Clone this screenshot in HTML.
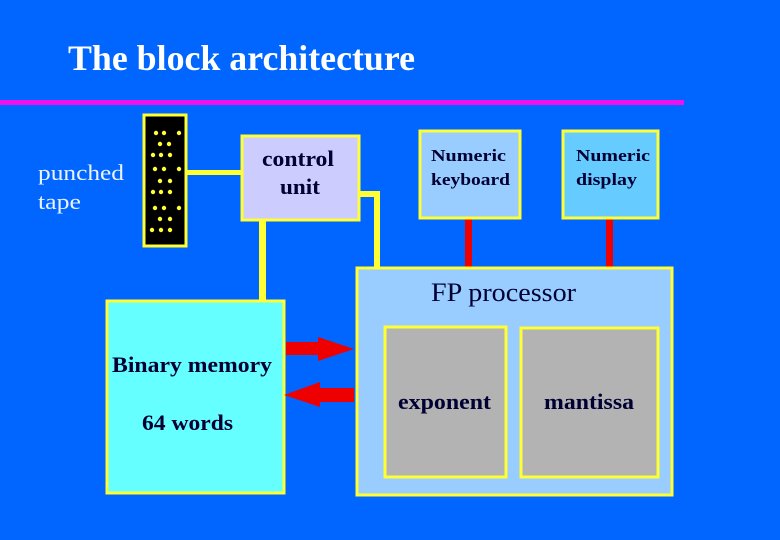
<!DOCTYPE html>
<html><head><style>
html,body{margin:0;padding:0;background:#0066ff;}
svg{display:block}
text{font-family:"Liberation Serif",serif;}
</style></head><body>
<svg width="780" height="540" xmlns="http://www.w3.org/2000/svg">
<rect width="780" height="540" fill="#0066ff"/>
<text x="68" y="70" font-size="36" font-weight="bold" fill="#fff" textLength="347" lengthAdjust="spacingAndGlyphs">The block architecture</text>
<rect x="0" y="100" width="684" height="5" fill="#ee11ee"/>
<text x="38" y="180" font-size="22" fill="#ffffff" fill-opacity="0.92" textLength="86" lengthAdjust="spacingAndGlyphs">punched</text>
<text x="38" y="209" font-size="22" fill="#ffffff" fill-opacity="0.92" textLength="43" lengthAdjust="spacingAndGlyphs">tape</text>
<rect x="187" y="170" width="55" height="5" fill="#ffff33"/>
<rect x="259" y="220" width="7" height="82" fill="#ffff33"/>
<polyline points="359,194 377,194 377,268" fill="none" stroke="#ffff33" stroke-width="6"/>
<rect x="465" y="219" width="7" height="49" fill="#ee0000"/>
<rect x="606" y="219" width="7" height="49" fill="#ee0000"/>
<rect x="144" y="115" width="42" height="131" fill="#000" stroke="#ffff33" stroke-width="3"/>
<g fill="#ffff33">
<circle cx="156" cy="133" r="2.2"/><circle cx="164" cy="133" r="2.2"/><circle cx="179" cy="133" r="2.2"/>
<circle cx="160" cy="144" r="2.2"/><circle cx="169" cy="144" r="2.2"/>
<circle cx="153" cy="155" r="2.2"/><circle cx="161" cy="155" r="2.2"/><circle cx="170" cy="155" r="2.2"/>
<circle cx="155" cy="169" r="2.2"/><circle cx="164" cy="169" r="2.2"/><circle cx="179" cy="169" r="2.2"/>
<circle cx="160" cy="181" r="2.2"/><circle cx="170" cy="181" r="2.2"/>
<circle cx="153" cy="192" r="2.2"/><circle cx="161" cy="192" r="2.2"/><circle cx="170" cy="192" r="2.2"/>
<circle cx="155" cy="208" r="2.2"/><circle cx="164" cy="208" r="2.2"/><circle cx="179" cy="208" r="2.2"/>
<circle cx="160" cy="219" r="2.2"/><circle cx="170" cy="219" r="2.2"/>
<circle cx="152" cy="230" r="2.2"/><circle cx="161" cy="230" r="2.2"/><circle cx="170" cy="230" r="2.2"/>
</g>
<rect x="242" y="136" width="117" height="84" fill="#ccccff" stroke="#ffff33" stroke-width="3"/>
<text x="262" y="166" font-size="22" font-weight="bold" fill="#000033" textLength="72" lengthAdjust="spacingAndGlyphs">control</text>
<text x="280" y="194" font-size="22" font-weight="bold" fill="#000033" textLength="40" lengthAdjust="spacingAndGlyphs">unit</text>
<rect x="420" y="131" width="100" height="87" fill="#99ccff" stroke="#ffff33" stroke-width="3"/>
<text x="431" y="161" font-size="17" font-weight="bold" fill="#000033" textLength="75" lengthAdjust="spacingAndGlyphs">Numeric</text>
<text x="431" y="185" font-size="17" font-weight="bold" fill="#000033" textLength="79" lengthAdjust="spacingAndGlyphs">keyboard</text>
<rect x="563" y="131" width="95" height="87" fill="#66ccff" stroke="#ffff33" stroke-width="3"/>
<text x="576" y="161" font-size="17" font-weight="bold" fill="#000033" textLength="74" lengthAdjust="spacingAndGlyphs">Numeric</text>
<text x="576" y="185" font-size="17" font-weight="bold" fill="#000033" textLength="61" lengthAdjust="spacingAndGlyphs">display</text>
<rect x="107" y="301" width="177" height="192" fill="#66ffff" stroke="#ffff33" stroke-width="3"/>
<text x="112" y="372" font-size="22" font-weight="bold" fill="#000033" textLength="160" lengthAdjust="spacingAndGlyphs">Binary memory</text>
<text x="142" y="430" font-size="22" font-weight="bold" fill="#000033" textLength="91" lengthAdjust="spacingAndGlyphs">64 words</text>
<rect x="357" y="268" width="315" height="227" fill="#99ccff" stroke="#ffff33" stroke-width="3"/>
<text x="431" y="301" font-size="26" fill="#000033" textLength="145" lengthAdjust="spacingAndGlyphs">FP processor</text>
<rect x="385" y="327" width="121" height="150" fill="#b3b3b3" stroke="#ffff33" stroke-width="3"/>
<rect x="521" y="328" width="137" height="149" fill="#b3b3b3" stroke="#ffff33" stroke-width="3"/>
<text x="398" y="409" font-size="22" font-weight="bold" fill="#000033" textLength="93" lengthAdjust="spacingAndGlyphs">exponent</text>
<text x="544" y="409" font-size="22" font-weight="bold" fill="#000033" textLength="90" lengthAdjust="spacingAndGlyphs">mantissa</text>
<polygon points="286,342 318,342 318,337 354,349 318,361 318,355 286,355" fill="#ee0000"/>
<polygon points="354,388 320,388 320,382 284,395 320,407 320,402 354,402" fill="#ee0000"/>
</svg>
</body></html>
